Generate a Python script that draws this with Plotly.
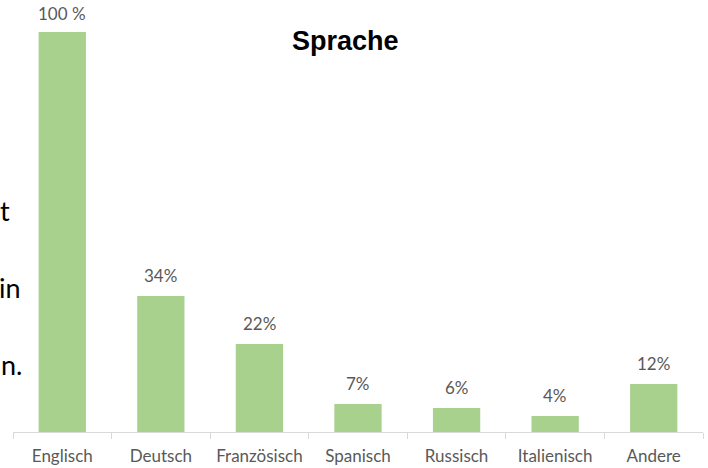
import plotly.graph_objects as go

categories = ["Englisch", "Deutsch", "Französisch", "Spanisch", "Russisch", "Italienisch", "Andere"]
values = [100, 34, 22, 7, 6, 4, 12]
labels = ["100 %", "34%", "22%", "7%", "6%", "4%", "12%"]

W, H = 708, 468
L, R, T, B = 13, 5, 32, 36
pw = W - L - R
ph = H - T - B

fig = go.Figure(go.Bar(
    x=categories, y=values,
    marker=dict(color="#A9D18E", line=dict(width=0)),
    cliponaxis=False, hoverinfo="skip",
))

for c, v, t in zip(categories, values, labels):
    fig.add_annotation(x=c, y=v, text=t, xref="x", yref="y", showarrow=False,
                       yanchor="bottom", yshift=8 if v < 100 else 6,
                       font=dict(family="Lato, Open Sans, sans-serif", size=17, color="#595959"))

fig.update_layout(
    width=W, height=H, margin=dict(l=L, r=R, t=T, b=B),
    paper_bgcolor="white", plot_bgcolor="white",
    bargap=0.52, showlegend=False,
    xaxis=dict(showline=True, linecolor="#d9d9d9", linewidth=1,
               ticks="outside", tickson="boundaries", ticklen=6, tickcolor="#d9d9d9",
               ticklabelstandoff=9,
               tickfont=dict(family="Lato, Open Sans, sans-serif", size=17, color="#595959"),
               showgrid=False, automargin=False),
    yaxis=dict(range=[0, 100], visible=False, showgrid=False),
)

fig.add_annotation(text="<b>Sprache</b>", xref="paper", yref="paper",
                   x=(345 - L) / pw, y=1 - (41 - T) / ph, xanchor="center", yanchor="middle",
                   showarrow=False, font=dict(family="Liberation Sans, Arial, sans-serif", size=27, color="black"))

for txt, right, yc in [("t", 11, 210), ("in", 22, 287), ("n.", 23, 364)]:
    fig.add_annotation(text=txt, xref="paper", yref="paper",
                       x=(right - L) / pw, y=1 - (yc - T) / ph,
                       xanchor="right", yanchor="middle", showarrow=False, borderpad=0,
                       font=dict(family="Lato, Open Sans, sans-serif", size=27, color="black"))

fig.write_html("out.html", config={"displayModeBar": False},
               post_script="document.body.style.margin='0';document.body.style.overflow='hidden';")
